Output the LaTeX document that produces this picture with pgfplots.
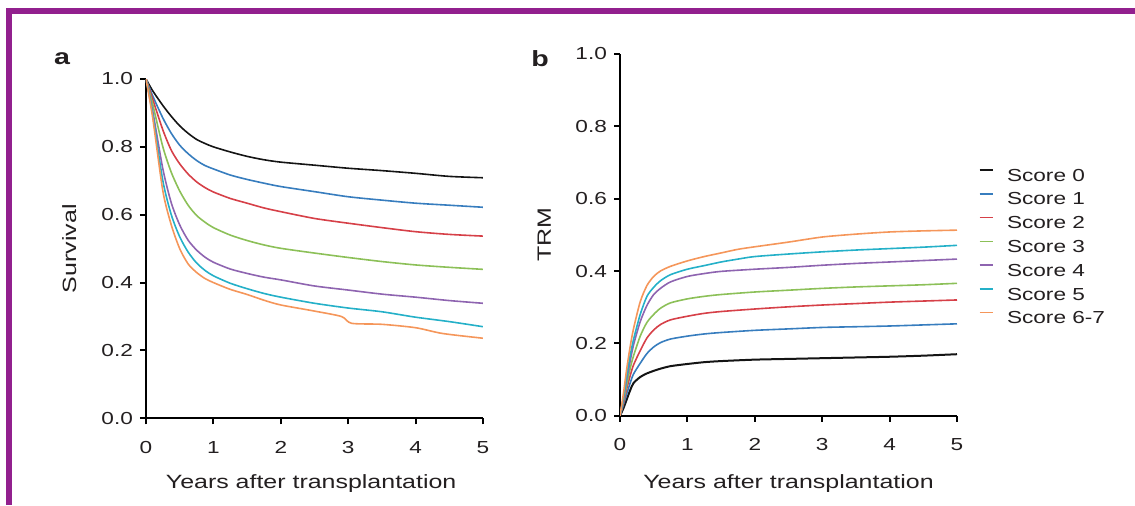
\documentclass[border=0pt]{standalone}
\usepackage{pgfplots}
\pgfplotsset{compat=1.18}
\usepackage{fontspec}
\setmainfont{Liberation Sans}[FakeStretch=1.3]
\definecolor{bpurple}{RGB}{146,32,142}
\definecolor{sblack}{RGB}{20,20,20}
\definecolor{sblue}{RGB}{55,125,190}
\definecolor{sred}{RGB}{214,64,72}
\definecolor{sgreen}{RGB}{140,192,88}
\definecolor{spurple}{RGB}{142,100,176}
\definecolor{scyan}{RGB}{36,176,200}
\definecolor{sorange}{RGB}{245,150,90}
\definecolor{txt}{RGB}{35,31,32}
\pgfplotsset{
  common/.style={
    scale only axis, width=168.5pt,
    xmin=0, xmax=5, ymin=0, ymax=1,
    axis x line*=bottom, axis y line*=left,
    axis line style={line width=1pt, black},
    xtick={0,1,2,3,4,5}, xticklabels={0,1,2,3,4,5},
    ytick={0,0.2,0.4,0.6,0.8,1}, yticklabels={0.0,0.2,0.4,0.6,0.8,1.0},
    tick align=outside, major tick length=3pt,
    tick style={line width=1pt, black},
    ticklabel style={font=\fontsize{8.7}{10}\selectfont, text=txt},
    xticklabel style={yshift=-5pt},
    label style={font=\fontsize{9.6}{11}\selectfont, text=txt},
    every axis plot/.append style={line width=0.8pt, smooth, tension=0.45},
  }
}
\begin{document}
\begin{tikzpicture}
\path[use as bounding box] (0pt,0pt) rectangle (567.5pt,252.5pt);
\fill[bpurple] (3.5pt,245.5pt) rectangle (567.5pt,248.5pt);
\fill[bpurple] (3pt,0pt) rectangle (6pt,248.5pt);
\node[font=\fontsize{11}{13}\selectfont\bfseries, text=txt] at (31pt,223pt) {a};
\node[font=\fontsize{11}{13}\selectfont\bfseries, text=txt] at (270pt,223pt) {b};

\begin{axis}[common, height=169.65pt, at={(73pt,43.35pt)}, anchor=south west,
  xlabel={Years after transplantation}, ylabel={Survival},
  xlabel style={at={(axis description cs:0.49,-0.208)}, anchor=base},
  ylabel style={at={(axis description cs:-0.228,0.5)}, anchor=center},
]
\addplot[sblack] coordinates {(0,1) (0.1,0.965) (0.25,0.922) (0.375,0.89) (0.5,0.862) (0.625,0.84) (0.75,0.822) (0.875,0.81) (1,0.80) (1.25,0.785) (1.5,0.772) (1.75,0.762) (2,0.755) (2.5,0.746) (3,0.737) (3.5,0.73) (4,0.722) (4.5,0.713) (5,0.709)};
\addplot[sblue] coordinates {(0,1) (0.1,0.95) (0.25,0.885) (0.375,0.84) (0.5,0.805) (0.625,0.78) (0.75,0.76) (0.875,0.745) (1,0.735) (1.25,0.717) (1.5,0.704) (1.75,0.693) (2,0.683) (2.5,0.668) (3,0.653) (3.5,0.643) (4,0.634) (4.5,0.628) (5,0.622)};
\addplot[sred] coordinates {(0,1) (0.1,0.94) (0.25,0.85) (0.375,0.79) (0.5,0.75) (0.625,0.72) (0.75,0.697) (0.875,0.68) (1,0.667) (1.25,0.648) (1.5,0.634) (1.75,0.62) (2,0.609) (2.5,0.589) (3,0.575) (3.5,0.562) (4,0.55) (4.5,0.542) (5,0.537)};
\addplot[sgreen] coordinates {(0,1) (0.1,0.925) (0.25,0.80) (0.375,0.725) (0.5,0.67) (0.625,0.628) (0.75,0.598) (0.875,0.578) (1,0.562) (1.25,0.54) (1.5,0.524) (1.75,0.511) (2,0.501) (2.5,0.487) (3,0.474) (3.5,0.462) (4,0.452) (4.5,0.445) (5,0.439)};
\addplot[spurple] coordinates {(0,1) (0.1,0.905) (0.25,0.735) (0.375,0.635) (0.5,0.57) (0.625,0.525) (0.75,0.496) (0.875,0.475) (1,0.46) (1.25,0.44) (1.5,0.427) (1.75,0.416) (2,0.408) (2.5,0.39) (3,0.378) (3.5,0.366) (4,0.357) (4.5,0.347) (5,0.339)};
\addplot[scyan] coordinates {(0,1) (0.1,0.895) (0.25,0.70) (0.375,0.60) (0.5,0.535) (0.625,0.49) (0.75,0.458) (0.875,0.436) (1,0.42) (1.25,0.398) (1.5,0.382) (1.75,0.368) (2,0.357) (2.5,0.339) (3,0.325) (3.5,0.314) (4,0.298) (4.5,0.285) (5,0.27)};
\addplot[sorange] coordinates {(0,1) (0.1,0.885) (0.25,0.67) (0.375,0.57) (0.5,0.50) (0.625,0.455) (0.75,0.43) (0.875,0.412) (1,0.40) (1.25,0.38) (1.5,0.365) (1.75,0.348) (2,0.334) (2.5,0.316) (2.9,0.30) (3.05,0.28) (3.5,0.277) (4,0.267) (4.4,0.25) (5,0.236)};
\end{axis}

\begin{axis}[common, height=180.85pt, at={(310pt,44.65pt)}, anchor=south west,
  xlabel={Years after transplantation}, ylabel={TRM},
  xlabel style={at={(axis description cs:0.5,-0.202)}, anchor=base},
  ylabel style={at={(axis description cs:-0.225,0.5)}, anchor=center},
  legend cell align=left,
  legend image code/.code={\draw[#1, sharp plot, line width=0.7pt] (0pt,3pt) -- (6.5pt,3pt);},
  legend style={at={(1.065,0.6876)}, anchor=north west, draw=none, fill=none,
    inner sep=0pt, outer sep=0pt, row sep=2.9pt, column sep=6.85pt,
    nodes={inner sep=0pt, outer sep=0pt, text height=7pt, text depth=2pt,
      font=\fontsize{8.7}{10}\selectfont, text=txt}},
]
\addplot[sblack, line width=1pt] coordinates {(0,0) (0.05,0.02) (0.1,0.045) (0.15,0.07) (0.2,0.09) (0.3,0.107) (0.4,0.117) (0.5,0.124) (0.6,0.13) (0.75,0.137) (1,0.143) (1.25,0.148) (1.5,0.151) (2,0.155) (2.5,0.157) (3,0.159) (3.5,0.161) (4,0.163) (4.5,0.166) (5,0.17)};
\addlegendentry{Score 0}
\addplot[sblue] coordinates {(0,0) (0.05,0.03) (0.1,0.06) (0.15,0.09) (0.2,0.115) (0.3,0.145) (0.4,0.172) (0.5,0.19) (0.6,0.202) (0.75,0.212) (1,0.22) (1.25,0.226) (1.5,0.23) (2,0.236) (2.5,0.24) (3,0.244) (3.5,0.246) (4,0.248) (4.5,0.251) (5,0.254)};
\addlegendentry{Score 1}
\addplot[sred] coordinates {(0,0) (0.05,0.035) (0.1,0.075) (0.15,0.11) (0.2,0.14) (0.3,0.18) (0.4,0.215) (0.5,0.237) (0.6,0.252) (0.75,0.265) (1,0.275) (1.25,0.283) (1.5,0.288) (2,0.295) (2.5,0.301) (3,0.306) (3.5,0.31) (4,0.314) (4.5,0.317) (5,0.32)};
\addlegendentry{Score 2}
\addplot[sgreen] coordinates {(0,0) (0.05,0.04) (0.1,0.085) (0.15,0.13) (0.2,0.165) (0.3,0.22) (0.4,0.258) (0.5,0.28) (0.6,0.297) (0.75,0.312) (1,0.323) (1.25,0.33) (1.5,0.335) (2,0.342) (2.5,0.347) (3,0.352) (3.5,0.356) (4,0.359) (4.5,0.362) (5,0.366)};
\addlegendentry{Score 3}
\addplot[spurple] coordinates {(0,0) (0.05,0.045) (0.1,0.10) (0.15,0.15) (0.2,0.195) (0.3,0.26) (0.4,0.305) (0.5,0.335) (0.6,0.352) (0.75,0.37) (1,0.385) (1.25,0.393) (1.5,0.399) (2,0.405) (2.5,0.41) (3,0.416) (3.5,0.421) (4,0.425) (4.5,0.429) (5,0.433)};
\addlegendentry{Score 4}
\addplot[scyan] coordinates {(0,0) (0.05,0.05) (0.1,0.11) (0.15,0.165) (0.2,0.21) (0.3,0.28) (0.4,0.33) (0.5,0.355) (0.6,0.373) (0.75,0.39) (1,0.405) (1.25,0.415) (1.5,0.425) (1.75,0.433) (2,0.44) (2.5,0.447) (3,0.453) (3.5,0.458) (4,0.462) (4.5,0.466) (5,0.471)};
\addlegendentry{Score 5}
\addplot[sorange] coordinates {(0,0) (0.05,0.06) (0.1,0.13) (0.15,0.19) (0.2,0.24) (0.3,0.315) (0.4,0.36) (0.5,0.385) (0.6,0.40) (0.75,0.413) (1,0.428) (1.25,0.44) (1.5,0.45) (1.75,0.46) (2,0.467) (2.5,0.48) (3,0.494) (3.5,0.502) (4,0.508) (4.5,0.511) (5,0.513)};
\addlegendentry{Score 6-7}
\end{axis}
\end{tikzpicture}
\end{document}
